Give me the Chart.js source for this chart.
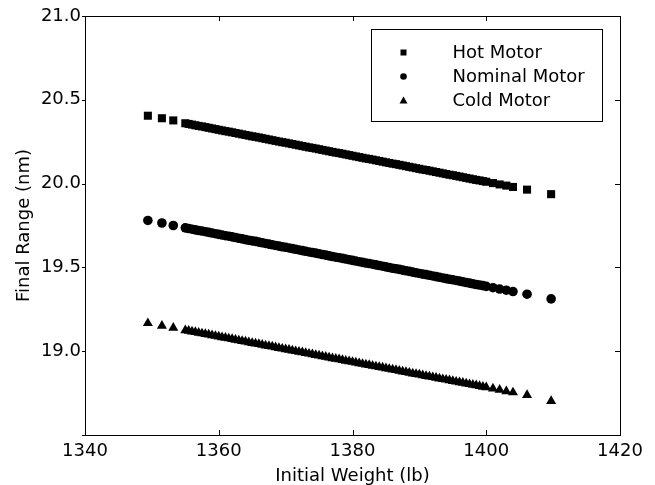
<!DOCTYPE html>
<html>
<head>
<meta charset="utf-8">
<script src="https://cdn.jsdelivr.net/npm/chart.js@4/dist/chart.umd.min.js"></script>
<style>
  body { margin: 0; background: #fff; }
  canvas { display: block; }
</style>
</head>
<body>
<canvas id="myChart" width="655" height="485"></canvas>
<script>
// initial weight (lb) - same weights for all three motor cases
const weights = [1349.4, 1351.5, 1353.2,
  1355, 1355.5, 1356, 1356.5, 1357, 1357.5, 1358, 1358.5, 1359, 1359.5,
  1360, 1360.5, 1361, 1361.5, 1362, 1362.5, 1363, 1363.5, 1364, 1364.5,
  1365, 1365.5, 1366, 1366.5, 1367, 1367.5, 1368, 1368.5, 1369, 1369.5,
  1370, 1370.5, 1371, 1371.5, 1372, 1372.5, 1373, 1373.5, 1374, 1374.5,
  1375, 1375.5, 1376, 1376.5, 1377, 1377.5, 1378, 1378.5, 1379, 1379.5,
  1380, 1380.5, 1381, 1381.5, 1382, 1382.5, 1383, 1383.5, 1384, 1384.5,
  1385, 1385.5, 1386, 1386.5, 1387, 1387.5, 1388, 1388.5, 1389, 1389.5,
  1390, 1390.5, 1391, 1391.5, 1392, 1392.5, 1393, 1393.5, 1394, 1394.5,
  1395, 1395.5, 1396, 1396.5, 1397, 1397.5, 1398, 1398.5, 1399, 1399.5,
  1400, 1401, 1402, 1403, 1404,
  1406.1, 1409.7]

// final range (nm)
const hotRange = [20.405, 20.39, 20.377,
  20.360, 20.356, 20.352, 20.348, 20.344, 20.341, 20.337, 20.333, 20.329, 20.325,
  20.321, 20.317, 20.313, 20.310, 20.306, 20.302, 20.298, 20.294, 20.290, 20.286,
  20.282, 20.279, 20.275, 20.271, 20.267, 20.263, 20.259, 20.255, 20.251, 20.247,
  20.244, 20.240, 20.236, 20.232, 20.228, 20.224, 20.220, 20.216, 20.213, 20.209,
  20.205, 20.201, 20.197, 20.193, 20.189, 20.185, 20.182, 20.178, 20.174, 20.170,
  20.166, 20.162, 20.158, 20.154, 20.150, 20.147, 20.143, 20.139, 20.135, 20.131,
  20.127, 20.123, 20.119, 20.116, 20.112, 20.108, 20.104, 20.100, 20.096, 20.092,
  20.088, 20.084, 20.081, 20.077, 20.073, 20.069, 20.065, 20.061, 20.057, 20.053,
  20.050, 20.046, 20.042, 20.038, 20.034, 20.030, 20.026, 20.022, 20.019, 20.015,
  20.011, 20.003, 19.995, 19.988, 19.980,
  19.964, 19.937]
const nominalRange = [19.780, 19.765, 19.750,
  19.736, 19.732, 19.728, 19.724, 19.720, 19.717, 19.713, 19.709, 19.705, 19.701,
  19.697, 19.693, 19.689, 19.686, 19.682, 19.678, 19.674, 19.670, 19.666, 19.662,
  19.658, 19.655, 19.651, 19.647, 19.643, 19.639, 19.635, 19.631, 19.627, 19.623,
  19.620, 19.616, 19.612, 19.608, 19.604, 19.600, 19.596, 19.592, 19.589, 19.585,
  19.581, 19.577, 19.573, 19.569, 19.565, 19.561, 19.558, 19.554, 19.550, 19.546,
  19.542, 19.538, 19.534, 19.530, 19.526, 19.523, 19.519, 19.515, 19.511, 19.507,
  19.503, 19.499, 19.495, 19.492, 19.488, 19.484, 19.480, 19.476, 19.472, 19.468,
  19.464, 19.460, 19.457, 19.453, 19.449, 19.445, 19.441, 19.437, 19.433, 19.429,
  19.426, 19.422, 19.418, 19.414, 19.410, 19.406, 19.402, 19.398, 19.395, 19.391,
  19.387, 19.379, 19.371, 19.364, 19.356,
  19.340, 19.312]
const coldRange = [19.167, 19.151, 19.139,
  19.125, 19.121, 19.117, 19.114, 19.110, 19.106, 19.102, 19.099, 19.095, 19.091,
  19.087, 19.083, 19.080, 19.076, 19.072, 19.068, 19.064, 19.061, 19.057, 19.053,
  19.049, 19.046, 19.042, 19.038, 19.034, 19.030, 19.027, 19.023, 19.019, 19.015,
  19.011, 19.008, 19.004, 19.000, 18.996, 18.993, 18.989, 18.985, 18.981, 18.977,
  18.974, 18.970, 18.966, 18.962, 18.958, 18.955, 18.951, 18.947, 18.943, 18.940,
  18.936, 18.932, 18.928, 18.924, 18.920, 18.917, 18.913, 18.909, 18.905, 18.902,
  18.898, 18.894, 18.890, 18.887, 18.883, 18.879, 18.875, 18.871, 18.867, 18.864,
  18.860, 18.856, 18.852, 18.849, 18.845, 18.841, 18.837, 18.833, 18.830, 18.826,
  18.822, 18.818, 18.814, 18.811, 18.807, 18.803, 18.799, 18.796, 18.792, 18.788,
  18.784, 18.777, 18.769, 18.761, 18.754,
  18.738, 18.702]

const seriesNames = ['Hot Motor', 'Nominal Motor', 'Cold Motor']
const markers = ['rect', 'circle', 'triangle']
const markerSizes = [5.7, 4.8, 5.8]
const xTicks = [1340, 1360, 1380, 1400, 1420]
const yTicks = [18.5, 19.0, 19.5, 20.0, 20.5, 21.0]

const FONT = 'DejaVu Sans'

const toPoints = ys => weights.map((w, i) => ({ x: w, y: ys[i] }))

// box round the plot, tick marks, legend inside the plot
const framePlugin = {
  id: 'frame',
  afterDraw(chart) {
    const ctx = chart.ctx
    const a = chart.chartArea
    const xs = chart.scales.x, ys = chart.scales.y
    ctx.save()
    ctx.strokeStyle = '#000'
    ctx.lineWidth = 1
    ctx.strokeRect(Math.round(a.left) + 0.5, Math.round(a.top) + 0.5,
      Math.round(a.right - a.left), Math.round(a.bottom - a.top))
    ctx.beginPath()
    xTicks.forEach(v => {
      const px = Math.round(xs.getPixelForValue(v)) + 0.5
      ctx.moveTo(px, a.bottom); ctx.lineTo(px, a.bottom - 5)
      ctx.moveTo(px, a.top); ctx.lineTo(px, a.top + 5)
    })
    yTicks.forEach(v => {
      const py = Math.round(ys.getPixelForValue(v)) + 0.5
      ctx.moveTo(a.left, py); ctx.lineTo(a.left - 3, py)
      ctx.moveTo(a.right, py); ctx.lineTo(a.right - 5, py)
    })
    ctx.stroke()

    // legend
    const bx = Math.round(a.right) - 249 + 0.5, by = Math.round(a.top) + 13 + 0.5
    ctx.strokeRect(bx, by, 231, 92)
    ctx.fillStyle = '#000'
    ctx.font = '18px "' + FONT + '"'
    ctx.textBaseline = 'middle'
    ctx.textAlign = 'left'
    chart.data.datasets.forEach((ds, i) => {
      const cy = by + 23 + i * 24
      const mx = bx + 32
      ctx.beginPath()
      if (ds.pointStyle === 'rect') {
        ctx.rect(mx - 3, cy - 3, 6, 6)
      } else if (ds.pointStyle === 'circle') {
        ctx.arc(mx, cy, 3.3, 0, Math.PI * 2)
      } else {
        ctx.moveTo(mx, cy - 4); ctx.lineTo(mx + 4, cy + 3); ctx.lineTo(mx - 4, cy + 3); ctx.closePath()
      }
      ctx.fill()
      ctx.fillText(ds.label, bx + 81, cy + 1)
    })
    ctx.restore()
  }
}

const ctx = document.getElementById('myChart').getContext('2d')
const rangeChart = new Chart(ctx, {
  type: 'scatter',
  data: {
    datasets: [hotRange, nominalRange, coldRange].map((ys, i) => ({
      label: seriesNames[i],
      data: toPoints(ys),
      pointStyle: markers[i],
      pointRadius: markerSizes[i],
      backgroundColor: '#000',
      borderColor: '#000',
      borderWidth: 0,
      showLine: false
    }))
  },
  plugins: [framePlugin],
  options: {
    responsive: false,
    animation: false,
    layout: { padding: { left: 0, top: 16, right: 35, bottom: 0 } },
    plugins: { legend: { display: false }, tooltip: { enabled: false } },
    scales: {
      x: {
        type: 'linear',
        min: 1340, max: 1420,
        afterFit: s => { s.height = 50 },
        afterBuildTicks: s => { s.ticks = xTicks.map(v => ({ value: v })) },
        grid: { display: false, drawTicks: false },
        border: { display: false },
        ticks: { color: '#000', padding: 6, font: { family: FONT, size: 18 }, callback: v => String(v) },
        title: { display: true, text: 'Initial Weight (lb)', color: '#000',
          font: { family: FONT, size: 18, lineHeight: 1 }, padding: 0 }
      },
      y: {
        type: 'linear',
        min: 18.5, max: 21.0,
        afterFit: s => { s.width = 85 },
        afterBuildTicks: s => { s.ticks = yTicks.map(v => ({ value: v })) },
        grid: { display: false, drawTicks: false },
        border: { display: false },
        ticks: { color: '#000', padding: 4, font: { family: FONT, size: 18 },
          callback: v => v === 18.5 ? '' : v.toFixed(1) },
        title: { display: true, text: 'Final Range (nm)', color: '#000',
          font: { family: FONT, size: 18, lineHeight: 1.2 }, padding: { top: 14, bottom: 0 } }
      }
    }
  }
})
</script>
</body>
</html>
